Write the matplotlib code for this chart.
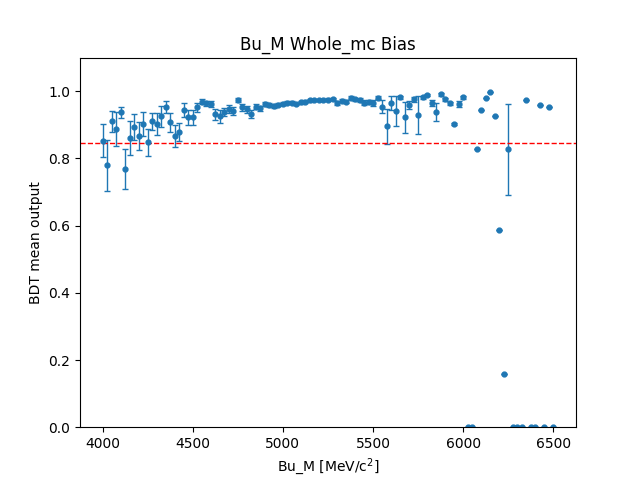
import numpy as np
import matplotlib

matplotlib.use("Agg")
import matplotlib.pyplot as plt

# bin centres of Bu_M, 25 MeV steps
bu_m = np.arange(4000, 6501, 25)

bdt_mean = [
    0.852, 0.779, 0.910, 0.887, 0.937, 0.768, 0.860, 0.893, 0.866, 0.902,
    0.848, 0.910, 0.902, 0.925, 0.954, 0.907, 0.866, 0.879, 0.943, 0.922,
    0.922, 0.952, 0.969, 0.964, 0.962, 0.931, 0.925, 0.939, 0.946, 0.942,
    0.974, 0.952, 0.946, 0.931, 0.954, 0.949, 0.962, 0.960, 0.957, 0.960,
    0.963, 0.966, 0.966, 0.962, 0.967, 0.969, 0.973, 0.974, 0.974, 0.974,
    0.975, 0.977, 0.964, 0.972, 0.969, 0.981, 0.976, 0.974, 0.966, 0.969,
    0.966, 0.981, 0.954, 0.896, 0.964, 0.941, 0.982, 0.922, 0.959, 0.976,
    0.929, 0.982, 0.989, 0.966, 0.937, 0.991, 0.976, 0.964, 0.902, 0.962,
    0.982, 0.0, 0.0, 0.827, 0.943, 0.979, 0.997, 0.925, 0.586, 0.157,
    0.827, 0.0, 0.0, 0.0, 0.973, 0.0, 0.0, 0.958, 0.0, 0.952,
    0.0,
]

bdt_err = [
    0.049, 0.076, 0.031, 0.050, 0.017, 0.060, 0.050, 0.039, 0.041, 0.035,
    0.040, 0.024, 0.032, 0.031, 0.018, 0.028, 0.033, 0.027, 0.021, 0.022,
    0.022, 0.014, 0.008, 0.008, 0.008, 0.017, 0.019, 0.012, 0.012, 0.012,
    0.006, 0.010, 0.010, 0.012, 0.008, 0.008, 0.006, 0.006, 0.006, 0.005,
    0.005, 0.005, 0.004, 0.004, 0.004, 0.004, 0.004, 0.004, 0.004, 0.004,
    0.004, 0.004, 0.006, 0.004, 0.005, 0.004, 0.005, 0.005, 0.008, 0.006,
    0.009, 0.004, 0.019, 0.052, 0.021, 0.045, 0.005, 0.045, 0.012, 0.008,
    0.056, 0.005, 0.004, 0.009, 0.027, 0.004, 0.004, 0.005, 0.004, 0.008,
    0.004, 0.0, 0.0, 0.0, 0.0, 0.0, 0.0, 0.0, 0.0, 0.0,
    0.135, 0.0, 0.0, 0.0, 0.0, 0.0, 0.0, 0.0, 0.0, 0.0,
    0.0,
]

mean_line = 0.846

fig, ax = plt.subplots(figsize=(6.4, 4.8), dpi=100)
ax.errorbar(bu_m, bdt_mean, yerr=bdt_err, fmt="o", markersize=3.5,
            capsize=2, elinewidth=1, color="tab:blue")
ax.axhline(mean_line, color="red", linestyle="--", linewidth=1)
ax.set_ylim(0, 1.1)
ax.set_title("Bu_M Whole_mc Bias")
ax.set_xlabel("Bu_M [MeV/c$^2$]")
ax.set_ylabel("BDT mean output")
fig.savefig("out.png", dpi=100)
